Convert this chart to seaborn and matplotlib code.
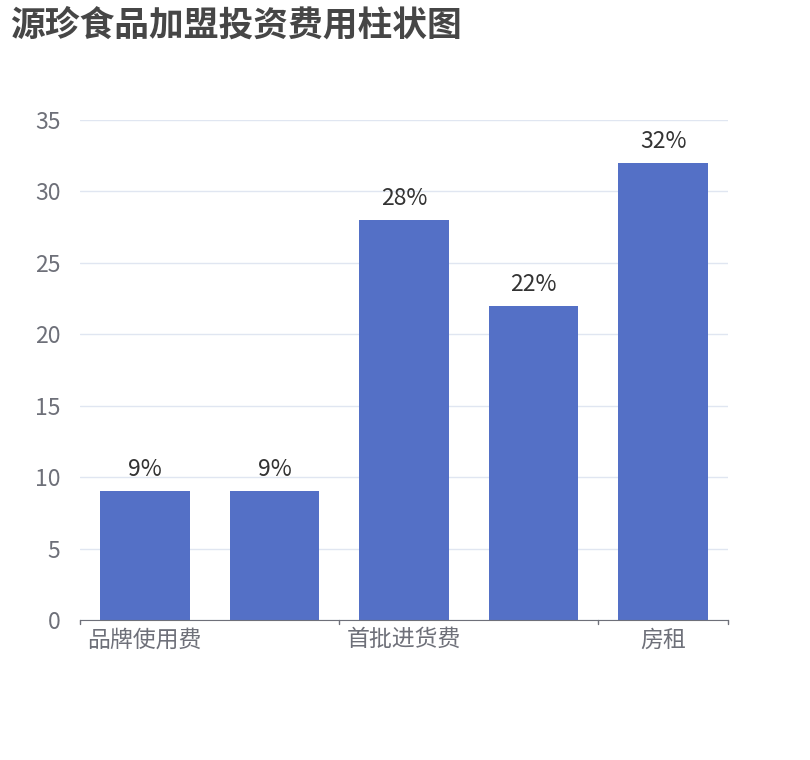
import matplotlib
matplotlib.use("Agg")
import matplotlib.pyplot as plt
import seaborn as sns
import pandas as pd

# chart data
categories = ["品牌使用费", "加盟费", "首批进货费", "装修费", "房租"]
values = [9, 9, 28, 22, 32]
shown_labels = ["品牌使用费", "", "首批进货费", "", "房租"]

sns.set_style("white")
plt.rcParams["font.family"] = ["Noto Sans CJK SC", "DejaVu Sans"]

df = pd.DataFrame({"cat": categories, "val": values})

fig = plt.figure(figsize=(8.1, 7.6), dpi=100)
ax = fig.add_axes([80 / 810, 140 / 760, 648 / 810, 500 / 760])
sns.barplot(data=df, x="cat", y="val", order=categories, color="#5470c6",
            saturation=1, width=0.69, linewidth=0, ax=ax)

ax.set_xlim(-0.5, len(categories) - 0.5)
ax.set_ylim(0, 35)
ax.set_yticks(range(0, 36, 5))
ax.yaxis.grid(True, color="#e0e6f1", linewidth=1)
ax.set_axisbelow(True)
for s in ["top", "right", "left"]:
    ax.spines[s].set_visible(False)
ax.spines["bottom"].set_color("#6e7079")
ax.set_xlabel("")
ax.set_ylabel("")

# labels centered on categories, ticks on boundaries
ax.set_xticks(range(len(categories)))
ax.set_xticklabels(shown_labels)
ax.tick_params(axis="x", length=0, labelsize=16.5, labelcolor="#6e7079", pad=6)
ax.tick_params(axis="y", length=0, labelsize=16.5, labelcolor="#6e7079", pad=14)
for b in [-0.5, 1.5, 3.5, 4.5]:
    ax.plot([b, b], [0, -0.25], color="#6e7079", lw=1, clip_on=False)

for i, v in enumerate(values):
    ax.text(i, v + 0.7, f"{v}%", ha="center", va="bottom", fontsize=16.5, color="#333333")

fig.text(10 / 810, 1 - 25 / 760, "源珍食品加盟投资费用柱状图", fontsize=25,
         fontweight="bold", color="#464646", va="center", ha="left")

fig.savefig("out.png", dpi=100)
